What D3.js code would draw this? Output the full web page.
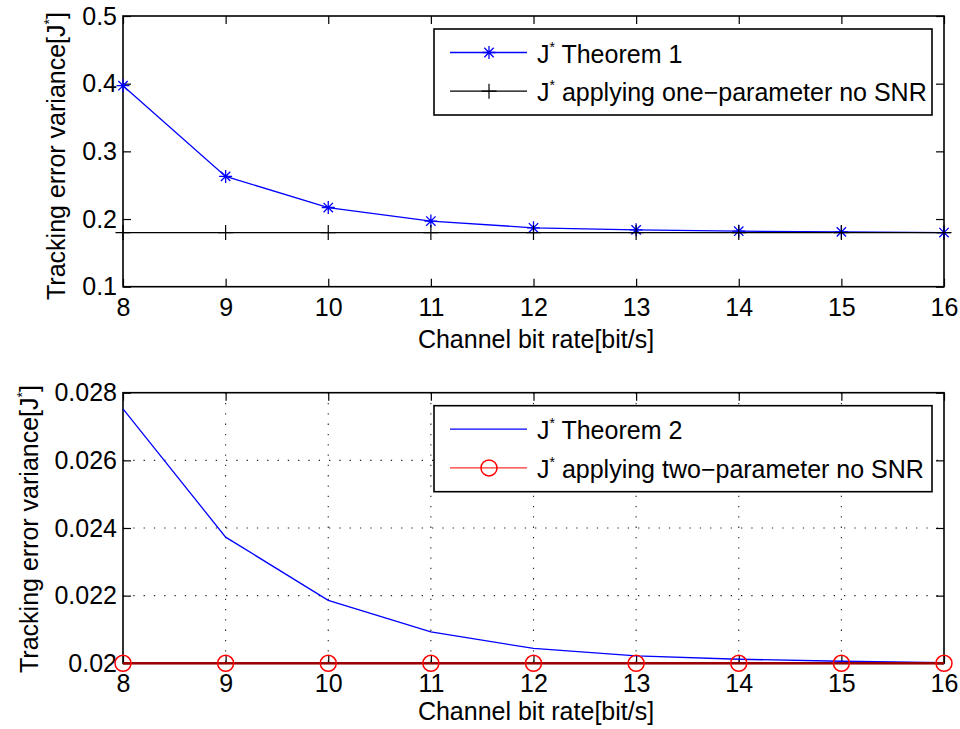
<!DOCTYPE html>
<html>
<head>
<meta charset="utf-8">
<script src="https://cdn.jsdelivr.net/npm/d3@7"></script>
<style>
    body { margin: 0; background: #fff; }
    svg { display: block; }
    text { font-family: "Liberation Sans", Arial, Helvetica, sans-serif; }
</style>
</head>
<body>
<svg id="chart" width="960" height="729"></svg>
<script>
// channel bit rate (x) for both panels
var bitRate = [8, 9, 10, 11, 12, 13, 14, 15, 16];

// top panel
var theorem1 = [0.397, 0.263, 0.217, 0.197, 0.187, 0.184, 0.182, 0.181, 0.180];
var oneParamNoSNR = [0.180, 0.180, 0.180, 0.180, 0.180, 0.180, 0.180, 0.180, 0.180];
var topYTicks = [0.1, 0.2, 0.3, 0.4, 0.5];
var topYLabels = ["0.1", "0.2", "0.3", "0.4", "0.5"];

// bottom panel
var theorem2 = [0.02752, 0.02373, 0.02186, 0.02093, 0.02044, 0.02022, 0.02012, 0.02006, 0.02002];
var twoParamNoSNR = [0.02, 0.02, 0.02, 0.02, 0.02, 0.02, 0.02, 0.02, 0.02];
var botYTicks = [0.02, 0.022, 0.024, 0.026, 0.028];
var botYLabels = ["0.02", "0.022", "0.024", "0.026", "0.028"];

var xLabels = ["8", "9", "10", "11", "12", "13", "14", "15", "16"];
var xTitle = "Channel bit rate[bit/s]";

var svg = d3.select("#chart");
var FS = 25;

function starPath(r) {
    var d = r * 0.72;
    return "M" + (-r) + ",0L" + r + ",0M0," + (-r) + "L0," + r +
        "M" + (-d) + "," + (-d) + "L" + d + "," + d +
        "M" + (-d) + "," + d + "L" + d + "," + (-d);
}
function plusPath(r) {
    return "M" + (-r) + ",0L" + r + ",0M0," + (-r) + "L0," + r;
}

// label with a small superscript star after "J"
function jStar(sel, before, after) {
    sel.append("tspan").text(before + "J");
    sel.append("tspan").attr("dy", -11).attr("font-size", 14).text("*");
    sel.append("tspan").attr("dy", 11).text(after);
}

function drawPanel(cfg) {
    var g = svg.append("g");
    var x = d3.scaleLinear().domain([8, 16]).range([123, 944]);
    var y = d3.scaleLinear().domain(cfg.yDomain).range([cfg.bottom, cfg.top]);

    // dotted grid
    if (cfg.grid) {
        var grid = g.append("g").attr("class", "grid");
        grid.selectAll("line.gx")
            .data(bitRate.slice(1, -1))
            .enter().append("line")
            .attr("x1", function (d) { return x(d); })
            .attr("x2", function (d) { return x(d); })
            .attr("y1", cfg.top).attr("y2", cfg.bottom);
        grid.selectAll("line.gy")
            .data(cfg.yTicks.slice(1, -1))
            .enter().append("line")
            .attr("y1", function (d) { return y(d); })
            .attr("y2", function (d) { return y(d); })
            .attr("x1", 123).attr("x2", 944);
        grid.selectAll("line")
            .attr("stroke", "#222")
            .attr("stroke-width", 1.1)
            .attr("stroke-dasharray", "1.3,9");
    }

    // axes with inward ticks
    var fmtX = function (d, i) { return xLabels[i]; };
    var fmtY = function (d, i) { return cfg.yLabels[i]; };

    var ax = g.append("g").attr("transform", "translate(0," + cfg.bottom + ")")
        .call(d3.axisBottom(x).tickValues(bitRate).tickFormat(fmtX).tickSizeInner(-8).tickSizeOuter(0).tickPadding(14));
    ax.selectAll("text").attr("font-size", FS).attr("fill", "#000").attr("dy", 0).attr("y", 29);

    g.append("g").attr("transform", "translate(0," + cfg.top + ")")
        .call(d3.axisTop(x).tickValues(bitRate).tickFormat("").tickSizeInner(-8).tickSizeOuter(0));

    var ay = g.append("g").attr("transform", "translate(123,0)")
        .call(d3.axisLeft(y).tickValues(cfg.yTicks).tickFormat(fmtY).tickSizeInner(-8).tickSizeOuter(0).tickPadding(6));
    ay.selectAll("text").attr("font-size", FS).attr("fill", "#000");

    g.append("g").attr("transform", "translate(944,0)")
        .call(d3.axisRight(y).tickValues(cfg.yTicks).tickFormat("").tickSizeInner(-8).tickSizeOuter(0));

    g.selectAll(".domain").remove();
    g.selectAll(".tick line").attr("stroke", "#000").attr("stroke-width", 1.2);

    g.append("rect")
        .attr("x", 123).attr("y", cfg.top)
        .attr("width", 944 - 123).attr("height", cfg.bottom - cfg.top)
        .attr("fill", "none").attr("stroke", "#000").attr("stroke-width", 1.6);

    var line = d3.line()
        .x(function (d, i) { return x(bitRate[i]); })
        .y(function (d) { return y(d); });

    cfg.series.forEach(function (s) {
        g.append("path")
            .datum(s.values)
            .attr("d", line)
            .attr("fill", "none")
            .attr("stroke", s.lineColor)
            .attr("stroke-width", s.width);
        if (s.marker) {
            g.selectAll(null)
                .data(s.values)
                .enter()
                .append("path")
                .attr("transform", function (d, i) {
                    return "translate(" + x(bitRate[i]) + "," + y(d) + ")";
                })
                .attr("d", s.marker)
                .attr("fill", "none")
                .attr("stroke", s.markerColor)
                .attr("stroke-width", s.markerWidth);
        }
    });

    // legend
    var lg = g.append("g");
    lg.append("rect")
        .attr("x", 434).attr("y", cfg.legendTop)
        .attr("width", 932 - 434).attr("height", 86)
        .attr("fill", "#fff").attr("stroke", "#000").attr("stroke-width", 1.6);
    cfg.series.forEach(function (s, i) {
        var cy = cfg.legendTop + 23.5 + i * 38.7;
        lg.append("line")
            .attr("x1", 450).attr("x2", 527)
            .attr("y1", cy).attr("y2", cy)
            .attr("stroke", s.legendColor).attr("stroke-width", 1.3);
        if (s.marker) {
            lg.append("path")
                .attr("transform", "translate(489," + cy + ")")
                .attr("d", s.marker)
                .attr("fill", "none")
                .attr("stroke", s.markerColor)
                .attr("stroke-width", s.markerWidth);
        }
        var t = lg.append("text")
            .attr("x", 537).attr("y", cy + 10)
            .attr("font-size", FS).attr("fill", "#000");
        jStar(t, "", s.name);
    });

    // axis titles
    g.append("text")
        .attr("x", 536).attr("y", cfg.xTitleY)
        .attr("text-anchor", "middle")
        .attr("font-size", FS).attr("fill", "#000")
        .text(xTitle);

    var yt = g.append("text")
        .attr("transform", "translate(" + cfg.yTitleX + "," + cfg.yTitleY + ") rotate(-90)")
        .attr("text-anchor", "middle")
        .attr("font-size", FS).attr("fill", "#000");
    jStar(yt, "Tracking error variance[", "]");
}

drawPanel({
    top: 16, bottom: 286.7,
    yDomain: [0.1, 0.5], yTicks: topYTicks, yLabels: topYLabels,
    grid: false, legendTop: 29,
    xTitleY: 348, yTitleX: 65, yTitleY: 156,
    series: [
        { name: " Theorem 1", values: theorem1, lineColor: "#0000ff", legendColor: "#0000ff", width: 1.3,
          marker: starPath(6.5), markerColor: "#0000ff", markerWidth: 1.3 },
        { name: " applying one\u2212parameter no SNR", values: oneParamNoSNR, lineColor: "#000", legendColor: "#000", width: 1.2,
          marker: plusPath(7.5), markerColor: "#000", markerWidth: 1.2 }
    ]
});

drawPanel({
    top: 392.7, bottom: 663.3,
    yDomain: [0.02, 0.028], yTicks: botYTicks, yLabels: botYLabels,
    grid: true, legendTop: 405.7,
    xTitleY: 720, yTitleX: 38, yTitleY: 529,
    series: [
        { name: " Theorem 2", values: theorem2, lineColor: "#0000ff", legendColor: "#0000ff", width: 1.3 },
        { name: " applying two\u2212parameter no SNR", values: twoParamNoSNR, lineColor: "#9a0000", legendColor: "#ff3030", width: 2.6,
          marker: d3.symbol().type(d3.symbolCircle).size(Math.PI * 64)(), markerColor: "#ff0000", markerWidth: 1.5 }
    ]
});
</script>
</body>
</html>
